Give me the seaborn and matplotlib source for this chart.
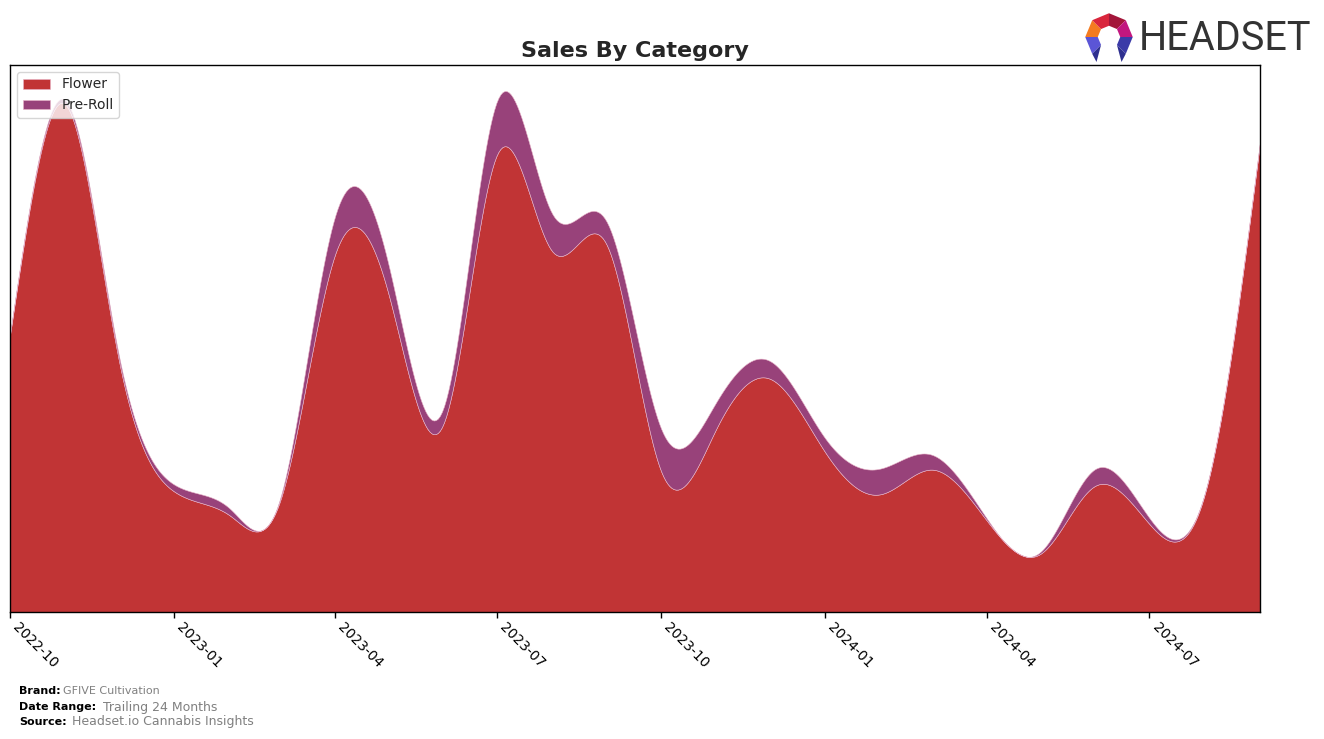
import numpy as np
import pandas as pd
import matplotlib
matplotlib.use("Agg")
import matplotlib.pyplot as plt
import matplotlib.dates as mdates
from matplotlib.patches import Polygon
import seaborn as sns

# ---- data (monthly sales) ----
months = pd.date_range("2022-10-01", "2024-09-01", freq="MS")
flower = [84000, 154000, 76500, 36600, 29400, 33000, 108000, 97000, 57000,
          138600, 109500, 111000, 42900, 55500, 70800, 48600, 35700, 43200,
          27600, 17700, 38400, 26700, 35700, 142500]
preroll = [300, 1200, 1500, 2100, 2100, 600, 11500, 9000, 4800, 16200, 11400,
           7000, 12900, 8100, 5400, 4200, 7800, 4500, 600, 600, 5100, 1800,
           300, 0]
categories = ["Flower", "Pre-Roll"]
colors = ["#c13435", "#98427a"]
tick_dates = pd.date_range("2022-10-01", "2024-07-01", freq="QS-OCT")


def spline_natural(x, y, xs):
    x = np.asarray(x, float)
    y = np.asarray(y, float)
    n = len(x)
    h = np.diff(x)
    A = np.zeros((n, n))
    b = np.zeros(n)
    A[0, 0] = 1.0
    A[-1, -1] = 1.0
    for i in range(1, n - 1):
        A[i, i - 1] = h[i - 1]
        A[i, i] = 2 * (h[i - 1] + h[i])
        A[i, i + 1] = h[i]
        b[i] = 6 * ((y[i + 1] - y[i]) / h[i] - (y[i] - y[i - 1]) / h[i - 1])
    M = np.linalg.solve(A, b)
    idx = np.clip(np.searchsorted(x, xs) - 1, 0, n - 2)
    x0, x1 = x[idx], x[idx + 1]
    hh = x1 - x0
    return (M[idx] * (x1 - xs) ** 3 / (6 * hh) + M[idx + 1] * (xs - x0) ** 3 / (6 * hh)
            + (y[idx] / hh - M[idx] * hh / 6) * (x1 - xs)
            + (y[idx + 1] / hh - M[idx + 1] * hh / 6) * (xs - x0))


sns.set_theme(style="white")
plt.rcParams["font.family"] = ["DejaVu Sans"]

fig = plt.figure(figsize=(13.24, 7.39), dpi=100)
ax = fig.add_axes([10 / 1324, 1 - 612 / 739, 1250 / 1324, 547 / 739])

xn = mdates.date2num(months)
xs = np.linspace(xn[0], xn[-1], 600)
f_s = np.clip(spline_natural(xn, flower, xs), 0, None)
p_s = np.clip(spline_natural(xn, preroll, xs), 0, None)
xd = mdates.num2date(xs)

ax.stackplot(xd, f_s, p_s, labels=categories, colors=colors,
             edgecolor="#e8b4c8", linewidth=0.4)

ax.set_xlim(months[0], months[-1])
ax.set_ylim(0, (f_s + p_s).max() * 1.05)
ax.set_yticks([])
ax.set_xticks(tick_dates)
ax.xaxis.set_major_formatter(mdates.DateFormatter("%Y-%m"))
ax.tick_params(axis="x", which="major", bottom=True, length=4, width=1,
               color="black", labelsize=10, labelcolor="black", pad=2)
for lbl in ax.get_xticklabels():
    lbl.set_rotation(-45)
    lbl.set_ha("left")
for s in ax.spines.values():
    s.set_color("black")
    s.set_linewidth(1)
    s.set_visible(True)

ax.set_title("Sales By Category", fontsize=16, fontweight="bold", pad=6)
leg = ax.legend(loc="upper left", fontsize=10, frameon=True,
                borderaxespad=0.5, handlelength=2.0)
leg.get_frame().set_edgecolor("#cccccc")

# footer
fig.text(19 / 1324, 1 - 691 / 739, "Brand:", fontsize=8, fontweight="bold",
         va="center", color="black")
fig.text(63 / 1324, 1 - 691 / 739, "GFIVE Cultivation", fontsize=8,
         va="center", color="#808080")
fig.text(19 / 1324, 1 - 707 / 739, "Date Range:", fontsize=8, fontweight="bold",
         va="center", color="black")
fig.text(103 / 1324, 1 - 707 / 739, "Trailing 24 Months", fontsize=9,
         va="center", color="#808080")
fig.text(19 / 1324, 1 - 722 / 739, "Source:", fontsize=8, fontweight="bold",
         va="center", color="black")
fig.text(72 / 1324, 1 - 722 / 739, "Headset.io Cannabis Insights", fontsize=9,
         va="center", color="#808080")

# logo
fig.text(1139 / 1324, 1 - 38 / 739, "HEADSET", fontsize=28.5,
         family=["Roboto", "DejaVu Sans"], color="#333333",
         va="center", ha="left")
lax = fig.add_axes([1084 / 1324, 1 - 62 / 739, 50 / 1324, 50 / 739])
lax.set_xlim(-1, 1)
lax.set_ylim(-1, 1)
lax.axis("off")
R, r = 0.95, 0.45
seg_cols = ["#5b55d6", "#f47b20", "#d9263c", "#a3163a", "#c2177f", "#3b3aa8"]
angs = [225, 180, 135, 90, 45, 0, -45]
for k in range(6):
    a0, a1 = np.radians(angs[k]), np.radians(angs[k + 1])
    pts = [(R * np.cos(a0), R * np.sin(a0)), (R * np.cos(a1), R * np.sin(a1)),
           (r * np.cos(a1), r * np.sin(a1)), (r * np.cos(a0), r * np.sin(a0))]
    lax.add_patch(Polygon(pts, closed=True, color=seg_cols[k], lw=0))
lax.add_patch(Polygon([(R * np.cos(np.radians(225)), R * np.sin(np.radians(225))),
                       (r * np.cos(np.radians(225)), r * np.sin(np.radians(225))),
                       (-0.5, -1.0)], closed=True, color="#2e2f8f", lw=0))
lax.add_patch(Polygon([(R * np.cos(np.radians(-45)), R * np.sin(np.radians(-45))),
                       (r * np.cos(np.radians(-45)), r * np.sin(np.radians(-45))),
                       (0.5, -1.0)], closed=True, color="#2e2f8f", lw=0))

fig.savefig("out.png", dpi=100)
